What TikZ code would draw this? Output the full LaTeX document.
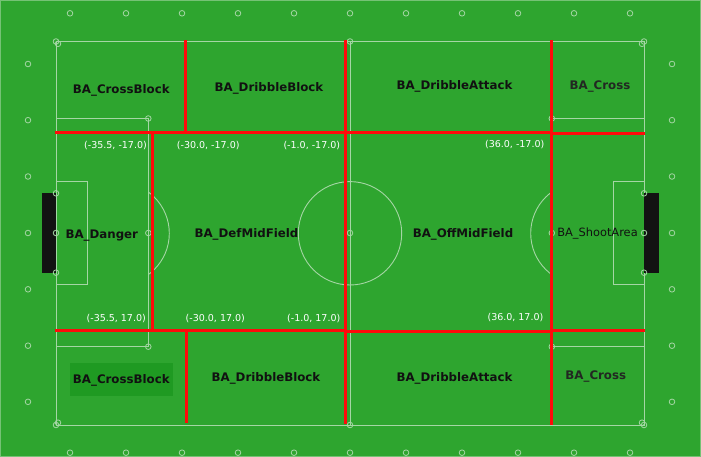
\documentclass[tikz,border=0pt]{standalone}
\usepackage{fontspec}
\setmainfont{DejaVu Sans}
\definecolor{grass}{RGB}{46,165,47}
\definecolor{grassdark}{RGB}{31,154,34}
\definecolor{fieldline}{RGB}{165,214,165}
\definecolor{redline}{RGB}{255,10,10}
\definecolor{labelink}{RGB}{17,17,17}
\definecolor{crossink}{RGB}{34,40,34}
\tikzset{
  fl/.style={draw=fieldline, line width=0.9pt},
  mk/.style={draw=fieldline, line width=0.8pt},
  rl/.style={draw=redline, line width=3pt},
  area/.style={font=\bfseries\fontsize{11.8}{14}\selectfont, text=labelink, inner sep=1pt},
  crossarea/.style={font=\bfseries\fontsize{11.8}{14}\selectfont, text=crossink, inner sep=1pt},
  plainarea/.style={font=\fontsize{11.4}{14}\selectfont, text=labelink, inner sep=1pt},
  coord/.style={font=\fontsize{9.5}{11}\selectfont, text=white, inner sep=0pt},
}
\begin{document}
\begin{tikzpicture}[x=1pt,y=-1pt]
\useasboundingbox (0,0) rectangle (701,457);
\fill[grass] (0,0) rectangle (701,457);
\draw[fieldline, line width=0.8pt, opacity=0.6] (0.5,0.5) rectangle (700.5,456.5);
% field lines
\draw[fl] (56,41.5) rectangle (644,425);
\draw[fl] (350,41.5) -- (350,425);
\draw[fl] (350,233.3) circle (51.7);
\draw[fl] (56,118.5) rectangle (148.3,346.7);
\draw[fl] (644,118.5) rectangle (551.8,346.7);
\draw[fl] (56,181.3) rectangle (87,284.7);
\draw[fl] (644,181.3) rectangle (613.3,284.7);
\begin{scope}
\clip (148.3,0) rectangle (200,457);
\draw[fl] (118.2,233.3) circle (51.1);
\end{scope}
\begin{scope}
\clip (500,0) rectangle (551.8,457);
\draw[fl] (581.8,233.3) circle (51.1);
\end{scope}
% goals
\fill[black!93] (41.7,193.3) rectangle (56,272.7);
\fill[black!93] (644,193.3) rectangle (659,272.7);
% markers
\foreach \x in {70,126,...,630} {
  \draw[mk] (\x,13.3) circle (2.8);
  \draw[mk] (\x,452.7) circle (2.8);
}
\foreach \y in {64,120.2,176.5,233,289.3,345.7,401.8} {
  \draw[mk] (28,\y) circle (2.8);
  \draw[mk] (672,\y) circle (2.8);
}
\foreach \p in {(56,41.5),(644,41.5),(56,425),(644,425),(350,41.5),(350,425),(350,233),
  (148.3,118.5),(148.3,233),(148.3,346.7),(551.8,118.5),(551.8,233),(551.8,346.7),
  (56,193.3),(56,233),(56,272.7),(644,193.3),(644,233),(644,272.7)} {
  \draw[mk] \p circle (2.8);
}
\draw[mk] (58,43.8) circle (2.8);
\draw[mk] (642,43.8) circle (2.8);
\draw[mk] (58,422.7) circle (2.8);
\draw[mk] (642,422.7) circle (2.8);
% highlight box
\fill[grassdark] (70,363) rectangle (172.7,395.7);
% red partition lines
\draw[rl] (55,132.3) -- (551,132.3);
\draw[rl] (551,133.5) -- (645,133.5);
\draw[rl] (54.5,330.5) -- (345,330.5);
\draw[rl] (345,331.5) -- (551,331.5);
\draw[rl] (551,330.7) -- (645,330.7);
\draw[rl] (185.8,40) -- (185.8,132.3);
\draw[rl] (345,40) -- (345,424);
\draw[rl] (551,40) -- (551,425);
\draw[rl] (152,132.3) -- (152,330.5);
\draw[rl] (186,330.5) -- (186,422.7);
% area labels
\node[area] (cbt) at (121.3,90) {BA\_CrossBlock};
\node[area] (dbt) at (269,88.3) {BA\_DribbleBlock};
\node[area] (dat) at (454.5,86.7) {BA\_DribbleAttack};
\node[crossarea] (crt) at (600,86.7) {BA\_Cross};
\node[area] (dng) at (101.8,235.7) {BA\_Danger};
\node[area] (dmf) at (246.5,234) {BA\_DefMidField};
\node[area] (omf) at (463,234) {BA\_OffMidField};
\node[plainarea] (sha) at (597.5,233.3) {BA\_ShootArea};
\node[area] (cbb) at (121.3,380.7) {BA\_CrossBlock};
\node[area] (dbb) at (266,378.3) {BA\_DribbleBlock};
\node[area] (dab) at (454.5,378) {BA\_DribbleAttack};
\node[crossarea] (crb) at (595.8,376.7) {BA\_Cross};
% coordinates
\node[coord, anchor=east] (c1) at (147,145.5) {(-35.5, -17.0)};
\node[coord, anchor=west] (c2) at (176.7,145.5) {(-30.0, -17.0)};
\node[coord, anchor=east] (c3) at (340.3,145.3) {(-1.0, -17.0)};
\node[coord, anchor=east] (c4) at (544.5,145) {(36.0, -17.0)};
\node[coord, anchor=east] (c5) at (146,319) {(-35.5, 17.0)};
\node[coord, anchor=west] (c6) at (185.5,318.3) {(-30.0, 17.0)};
\node[coord, anchor=east] (c7) at (340.5,318.3) {(-1.0, 17.0)};
\node[coord, anchor=east] (c8) at (543.5,318) {(36.0, 17.0)};
\end{tikzpicture}
\end{document}
